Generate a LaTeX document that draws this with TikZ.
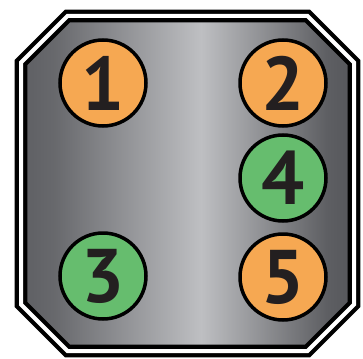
\documentclass[tikz,border=0pt]{standalone}
\usepackage{fontspec}
\setmainfont{PT Sans}

% Define colours
\definecolor{digitColour}{HTML}{231F20}
\definecolor{orangeFill}{HTML}{F6A852}
\definecolor{greenFill}{HTML}{66BD6E}
\definecolor{leftGrey}{HTML}{5E5F63}
\definecolor{midGrey}{HTML}{BEBFC2}
\definecolor{rightGrey}{HTML}{55565A}

% Plate shading, dark at both sides (the path fills 25bp to 75bp)
\pgfdeclarehorizontalshading{plateShade}{100bp}{color(0bp)=(leftGrey); color(25bp)=(leftGrey);
    color(30bp)=(leftGrey!90!midGrey); color(52bp)=(midGrey); color(71bp)=(rightGrey!92!midGrey);
    color(75bp)=(rightGrey); color(100bp)=(rightGrey)}

\tikzset{
    pinCircle/.style={circle, draw=black, line width=3.5pt, minimum size=86pt, inner sep=0pt,
        text=digitColour, font=\fontsize{76}{76}\selectfont\bfseries}
}

\begin{document}
\begin{tikzpicture}[x=1pt, y=-1pt]
    % Fix picture size
    \useasboundingbox (0,0) rectangle (363,358);

    % Define corners of the octagon (centre line of the border)
    \coordinate (T1) at (67.5,16);
    \coordinate (T2) at (307.5,16);
    \coordinate (R1) at (354,62.5);
    \coordinate (R2) at (354,304.5);
    \coordinate (B2) at (307.5,351);
    \coordinate (B1) at (67.5,351);
    \coordinate (L2) at (21,304.5);
    \coordinate (L1) at (21,62.5);

    % Fill the plate
    \shade[shading=plateShade]
        (T1) -- (T2) -- (R1) -- (R2) -- (B2) -- (B1) -- (L2) -- (L1) -- cycle;

    % Draw the double border
    \draw[line width=4.3pt, double=white, double distance=4pt, line join=miter]
        (T1) -- (T2) -- (R1) -- (R2) -- (B2) -- (B1) -- (L2) -- (L1) -- cycle;

    % Draw the pins
    \foreach \pos/\num/\col in {{(103,83)}/1/orangeFill, {(283,83)}/2/orangeFill,
                               {(103,276)}/3/greenFill, {(283,178)}/4/greenFill,
                               {(283,277)}/5/orangeFill}
        \node[pinCircle, fill=\col] (pin\num) at \pos {\num};

\end{tikzpicture}
\end{document}
